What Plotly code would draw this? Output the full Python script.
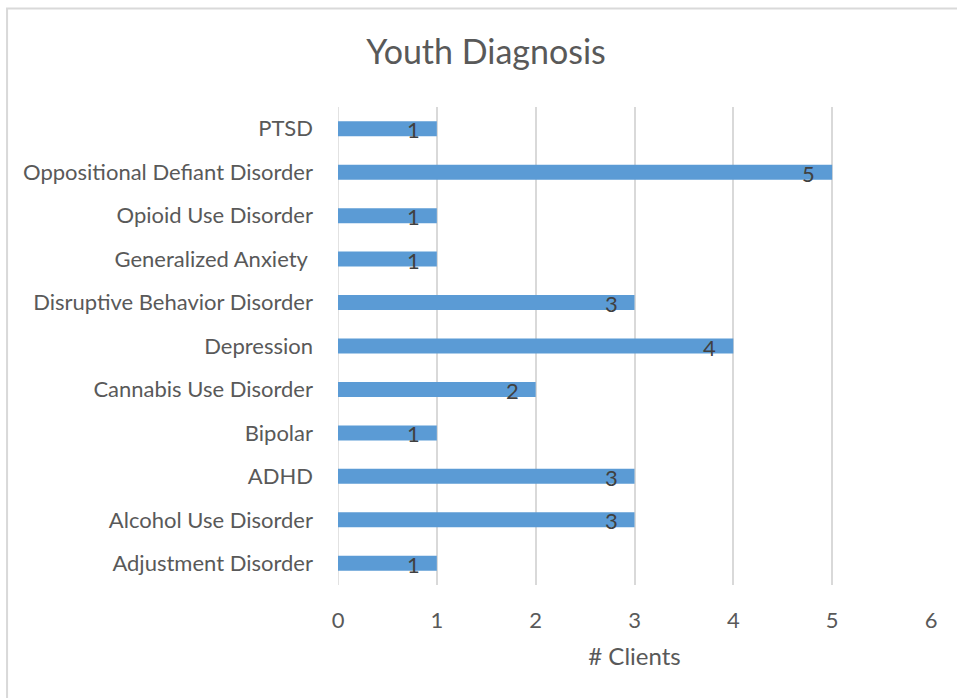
import plotly.graph_objects as go

# Diagnoses, listed bottom to top as they appear on the axis
diagnoses = [
    "Adjustment Disorder",
    "Alcohol Use Disorder",
    "ADHD",
    "Bipolar",
    "Cannabis Use Disorder",
    "Depression",
    "Disruptive Behavior Disorder",
    "Generalized Anxiety\u00a0",
    "Opioid Use Disorder",
    "Oppositional Defiant Disorder",
    "PTSD",
]
clients = [1, 3, 3, 1, 2, 4, 3, 1, 1, 5, 1]
x_ticks = [0, 1, 2, 3, 4, 5, 6]

FONT = "Lato"
GRAY = "#595959"
BAR = "#5B9BD5"
GRID = "#D9D9D9"

W, H = 957, 698
L, R, T, B = 337.5, 25.5, 107, 113
pw, ph = W - L - R, H - T - B

fig = go.Figure(
    go.Bar(
        x=clients,
        y=diagnoses,
        orientation="h",
        marker=dict(color=BAR, line=dict(width=0)),
        hoverinfo="x+y",
    )
)

# value labels just inside the end of each bar
for d, v in zip(diagnoses, clients):
    fig.add_annotation(
        x=v, y=d, text=str(v), showarrow=False,
        xanchor="right", yanchor="middle", xshift=-15, yshift=-1,
        font=dict(family=FONT, size=22, color="#404040"),
    )

# chart-area frame
def px_to_paper_x(px):
    return (px - L) / pw

def px_to_paper_y(py):
    return (H - B - py) / ph

fig.add_shape(
    type="rect", xref="paper", yref="paper",
    x0=px_to_paper_x(6), x1=px_to_paper_x(980),
    y0=px_to_paper_y(720), y1=px_to_paper_y(8.5),
    line=dict(color=GRID, width=2), fillcolor="rgba(0,0,0,0)", layer="below",
)

fig.update_layout(
    width=W, height=H,
    margin=dict(l=L, r=R, t=T, b=B, pad=0),
    paper_bgcolor="white", plot_bgcolor="white",
    bargap=0.655,
    showlegend=False,
    title=dict(
        text="Youth Diagnosis", xref="container", x=486 / W, xanchor="center",
        yref="container", y=1 - 52 / H, yanchor="middle",
        font=dict(family=FONT, size=34, color=GRAY),
    ),
    xaxis=dict(
        range=[0, 6], tickvals=x_ticks, showgrid=True, gridcolor=GRID, gridwidth=1.5,
        zeroline=False, showline=False, ticks="", ticklabelstandoff=20,
        tickfont=dict(family=FONT, size=22, color=GRAY),
        title=dict(text="# Clients", font=dict(family=FONT, size=24, color=GRAY), standoff=16),
        fixedrange=True,
    ),
    yaxis=dict(
        type="category", categoryorder="array", categoryarray=diagnoses,
        showgrid=False, zeroline=False, showline=False, ticks="",
        ticklabelstandoff=24,
        tickfont=dict(family=FONT, size=22, color=GRAY),
        fixedrange=True,
    ),
)

# vertical line at zero drawn like the other gridlines
fig.add_shape(type="line", xref="x", yref="paper", x0=0, x1=0, y0=0, y1=1,
              line=dict(color=GRID, width=1.5), layer="below")

fig.write_html("out.html")
